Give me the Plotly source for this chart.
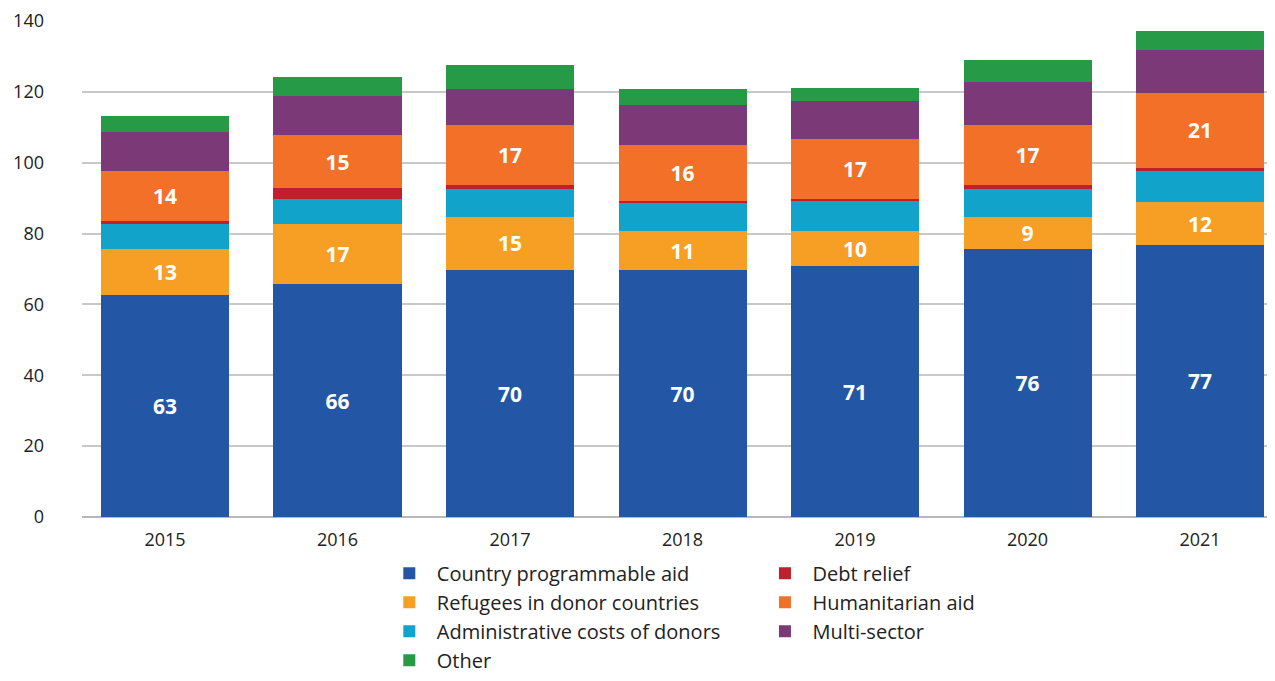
import plotly.graph_objects as go

years = ["2015", "2016", "2017", "2018", "2019", "2020", "2021"]

country_programmable_aid = [62.8, 65.7, 69.7, 69.7, 70.8, 75.7, 76.8]
refugees_in_donor_countries = [12.9, 16.9, 15.0, 10.9, 9.8, 9.0, 12.0]
administrative_costs = [7.0, 7.1, 8.0, 8.0, 8.7, 8.0, 9.0]
debt_relief = [0.9, 3.1, 1.0, 0.7, 0.6, 1.0, 0.8]
humanitarian_aid = [14.1, 14.9, 16.9, 15.6, 16.9, 16.9, 21.1]
multi_sector = [10.9, 11.1, 10.1, 11.5, 10.6, 12.1, 12.0]
other = [4.6, 5.3, 6.8, 4.5, 3.6, 6.4, 5.5]

y_ticks = [0, 20, 40, 60, 80, 100, 120, 140]

series = [
    ("Country programmable aid", country_programmable_aid, "#2357a5", True, "legend"),
    ("Refugees in donor countries", refugees_in_donor_countries, "#f79f25", True, "legend"),
    ("Administrative costs of donors", administrative_costs, "#12a3cb", False, "legend"),
    ("Debt relief", debt_relief, "#bf1f2e", False, "legend2"),
    ("Humanitarian aid", humanitarian_aid, "#f27028", True, "legend2"),
    ("Multi-sector", multi_sector, "#7c3977", False, "legend2"),
    ("Other", other, "#269a47", False, "legend"),
]

FONT = "Open Sans, Noto Sans, sans-serif"

fig = go.Figure()
for name, vals, color, labeled, leg in series:
    fig.add_trace(go.Bar(
        x=list(range(len(years))),
        y=vals,
        name=name,
        marker=dict(color=color, line=dict(width=0)),
        width=0.742,
        texttemplate="<b>%{y:.0f}</b>" if labeled else None,
        textposition="inside" if labeled else "none",
        insidetextanchor="middle",
        textangle=0,
        constraintext="none",
        textfont=dict(color="white", size=21, family=FONT),
        legend=leg,
        hoverinfo="name+y",
    ))

fig.update_layout(
    barmode="stack",
    width=1259,
    height=665,
    margin=dict(l=74, r=0, t=13, b=156, autoexpand=False),
    paper_bgcolor="white",
    plot_bgcolor="white",
    font=dict(family=FONT, color="#222222"),
    xaxis=dict(
        tickmode="array",
        tickvals=list(range(len(years))),
        ticktext=years,
        range=[-0.481, 6.388],
        showgrid=False,
        zeroline=False,
        showline=False,
        ticks="",
        automargin=False,
        ticklabelstandoff=10,
        tickfont=dict(size=18, color="#222222"),
    ),
    yaxis=dict(
        range=[0, 140],
        tickmode="array",
        tickvals=y_ticks,
        showgrid=True,
        gridcolor="#c8c8c8",
        gridwidth=1.5,
        zeroline=True,
        zerolinecolor="#b8b8b8",
        zerolinewidth=2,
        ticks="",
        automargin=False,
        ticklabelstandoff=37,
        tickfont=dict(size=18, color="#222222"),
    ),
    legend=dict(
        orientation="v",
        traceorder="normal",
        x=0.253, xanchor="left",
        y=-0.074, yanchor="top",
        font=dict(size=20, color="#222222"),
        itemwidth=45,
        bgcolor="rgba(0,0,0,0)",
    ),
    legend2=dict(
        orientation="v",
        traceorder="normal",
        x=0.570, xanchor="left",
        y=-0.074, yanchor="top",
        font=dict(size=20, color="#222222"),
        itemwidth=45,
        bgcolor="rgba(0,0,0,0)",
    ),
    showlegend=True,
)

fig.write_html("out.html")
